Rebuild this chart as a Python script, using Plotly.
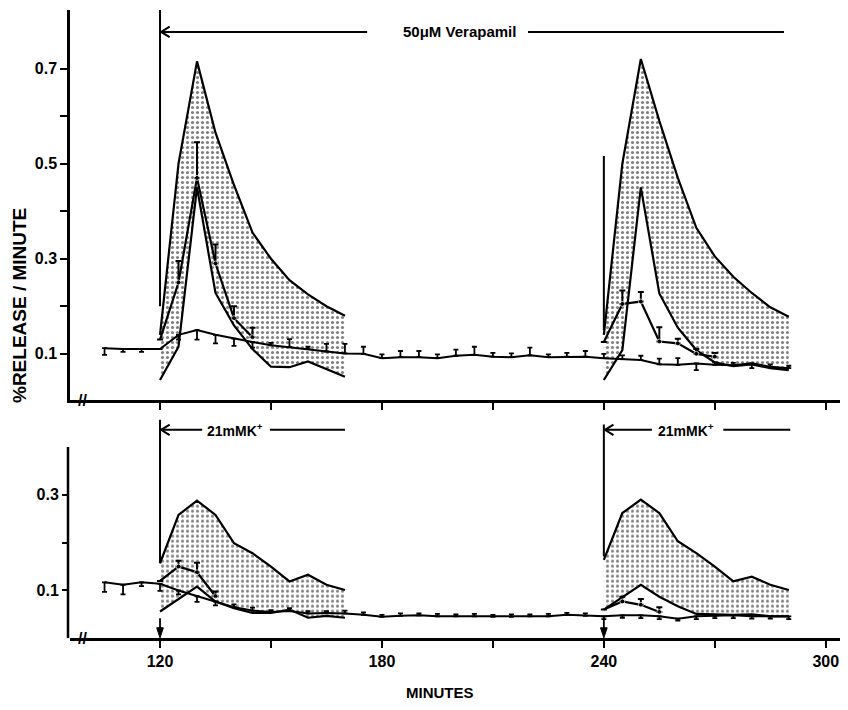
import plotly.graph_objects as go

# ---------------- data ----------------
time_all = [105, 110, 115, 120, 125, 130, 135, 140, 145, 150, 155, 160, 165, 170,
            175, 180, 185, 190, 195, 200, 205, 210, 215, 220, 225, 230, 235, 240,
            245, 250, 255, 260, 265, 270, 275, 280, 285, 290]

# top panel (50 uM verapamil) control curve
ctrl_top = [0.112, 0.110, 0.110, 0.110, 0.140, 0.150, 0.140, 0.132, 0.125, 0.118,
            0.114, 0.110, 0.105, 0.101, 0.100, 0.091, 0.093, 0.093, 0.091, 0.096,
            0.098, 0.094, 0.093, 0.097, 0.093, 0.094, 0.094, 0.091, 0.089, 0.087,
            0.078, 0.077, 0.080, 0.077, 0.076, 0.080, 0.073, 0.070]
ctrl_top_err_up = [0, 0, 0, 0, 0, 0, 0, 0, 0, 0.005, 0.017, 0.005, 0.016, 0.020,
                   0.015, 0.008, 0.013, 0.013, 0.008, 0.013, 0.017, 0.008, 0.008,
                   0.016, 0.006, 0.008, 0.012, 0.009, 0.008, 0.009, 0.012, 0.014,
                   0, 0.005, 0.005, 0, 0.005, 0.005]
ctrl_top_err_dn = [0.014, 0.006, 0.006, 0, 0.010, 0.020, 0.018, 0.015, 0.012, 0,
                   0, 0, 0, 0, 0, 0, 0, 0, 0, 0, 0, 0, 0, 0, 0, 0, 0, 0, 0, 0, 0, 0,
                   0.014, 0, 0, 0.010, 0, 0]

# bottom panel (21 mM K+) control curve
ctrl_bot = [0.117, 0.112, 0.117, 0.114, 0.100, 0.088, 0.077, 0.065, 0.058, 0.055,
            0.057, 0.052, 0.053, 0.052, 0.049, 0.045, 0.047, 0.048, 0.046, 0.046,
            0.046, 0.045, 0.045, 0.046, 0.046, 0.049, 0.047, 0.046, 0.048, 0.048,
            0.046, 0.041, 0.046, 0.047, 0.048, 0.046, 0.046, 0.046]
ctrl_bot_err_up = [0, 0, 0, 0, 0, 0, 0, 0.006, 0.006, 0.004, 0.006, 0.005, 0.004,
                   0.006, 0.005, 0.004, 0.005, 0.004, 0.005, 0.004, 0.005, 0.004,
                   0.005, 0.004, 0.005, 0.004, 0.005, 0, 0, 0, 0, 0, 0, 0, 0, 0, 0, 0]
ctrl_bot_err_dn = [0.020, 0.020, 0.008, 0.015, 0.008, 0.012, 0.008, 0, 0, 0, 0, 0,
                   0, 0, 0, 0, 0, 0, 0, 0, 0, 0, 0, 0, 0, 0, 0, 0.006, 0.005, 0.006,
                   0.006, 0.004, 0.006, 0.005, 0.006, 0.005, 0.005, 0.006]

# stippled envelopes (control K+ responses)
band_time_L = [120, 125, 130, 135, 140, 145, 150, 155, 160, 165, 170]
band_time_R = [240, 245, 250, 255, 260, 265, 270, 275, 280, 285, 290]
band_top_upper_L = [0.14, 0.50, 0.715, 0.565, 0.455, 0.355, 0.300, 0.255, 0.225, 0.200, 0.180]
band_top_lower_L = [0.045, 0.115, 0.450, 0.228, 0.160, 0.110, 0.073, 0.072, 0.084, 0.068, 0.052]
band_top_upper_R = [0.14, 0.50, 0.720, 0.590, 0.470, 0.365, 0.305, 0.262, 0.228, 0.198, 0.178]
band_top_lower_R = [0.045, 0.108, 0.450, 0.227, 0.155, 0.108, 0.082, 0.074, 0.078, 0.070, 0.066]
band_bot_upper_L = [0.157, 0.258, 0.288, 0.258, 0.199, 0.178, 0.150, 0.119, 0.133, 0.112, 0.101]
band_bot_lower_L = [0.056, 0.082, 0.108, 0.077, 0.063, 0.053, 0.053, 0.060, 0.043, 0.047, 0.043]
band_bot_upper_R = [0.164, 0.262, 0.290, 0.262, 0.203, 0.178, 0.150, 0.119, 0.129, 0.112, 0.101]
band_bot_lower_R = [0.060, 0.086, 0.112, 0.087, 0.067, 0.051, 0.050, 0.049, 0.050, 0.046, 0.046]

# K+ responses in the presence of verapamil
ver_top_L_time = [120, 125, 130, 135, 140, 145]
ver_top_L = [0.130, 0.250, 0.470, 0.290, 0.175, 0.135]
ver_top_L_err = [0, 0.045, 0.075, 0.040, 0.025, 0.020]
ver_top_R_time = [240, 245, 250, 255, 260, 265, 270]
ver_top_R = [0.125, 0.205, 0.210, 0.126, 0.122, 0.100, 0.094]
ver_top_R_err = [0, 0.028, 0.020, 0.030, 0.010, 0.010, 0.008]
ver_bot_L_time = [120, 125, 130, 135]
ver_bot_L = [0.120, 0.150, 0.138, 0.088]
ver_bot_L_err = [0, 0.012, 0.020, 0.010]
ver_bot_R_time = [240, 245, 250, 255]
ver_bot_R = [0.060, 0.077, 0.070, 0.055]
ver_bot_R_err = [0, 0.010, 0.012, 0.010]

x_ticks = [120, 150, 180, 210, 240, 270, 300]
x_ticktext = ["120", "", "180", "", "240", "", "300"]
y_top_ticks = [0.1, 0.2, 0.3, 0.4, 0.5, 0.6, 0.7]
y_top_ticktext = ["0.1", "", "0.3", "", "0.5", "", "0.7"]
y_bot_ticks = [0.1, 0.2, 0.3]
y_bot_ticktext = ["0.1", "", "0.3"]

# event markers (minutes / values)
stim_times = [120, 240]
verapamil_label = "50\u03bcM Verapamil"
k_label = "21mMK<sup>+</sup>"

# ---------------- figure ----------------
FONT = "Liberation Sans, Arial, sans-serif"
BLACK = "black"
OFF = 8  # page body margin of the browser
W, H = 848, 710
def px_x(px):
    return (px - OFF) / W
def px_y(py):
    return (H + OFF - py) / H

fig = go.Figure()

def band(xs, up, lo, xa, ya):
    fig.add_trace(go.Scatter(
        x=xs + xs[::-1], y=up + lo[::-1], xaxis=xa, yaxis=ya,
        mode="lines", fill="toself", line=dict(width=0, color="rgba(0,0,0,0)"),
        fillcolor="white",
        fillpattern=dict(shape=".", size=5, solidity=0.3, fgcolor="#000", bgcolor="white"),
        hoverinfo="skip"))
    for arr in (up, lo):
        fig.add_trace(go.Scatter(x=xs, y=arr, xaxis=xa, yaxis=ya, mode="lines",
                                 line=dict(color=BLACK, width=2.2), hoverinfo="skip"))

band(band_time_L, band_top_upper_L, band_top_lower_L, "x", "y")
band(band_time_R, band_top_upper_R, band_top_lower_R, "x", "y")
band(band_time_L, band_bot_upper_L, band_bot_lower_L, "x2", "y2")
band(band_time_R, band_bot_upper_R, band_bot_lower_R, "x2", "y2")

def ctrl(y, up, dn, xa, ya):
    fig.add_trace(go.Scatter(
        x=time_all, y=y, xaxis=xa, yaxis=ya, mode="lines",
        line=dict(color=BLACK, width=2),
        error_y=dict(type="data", symmetric=False, array=up, arrayminus=dn,
                     color=BLACK, thickness=1.8, width=2.5)))

ctrl(ctrl_top, ctrl_top_err_up, ctrl_top_err_dn, "x", "y")
ctrl(ctrl_bot, ctrl_bot_err_up, ctrl_bot_err_dn, "x2", "y2")

def ver(t, y, e, xa, ya):
    fig.add_trace(go.Scatter(
        x=t, y=y, xaxis=xa, yaxis=ya, mode="lines+markers",
        line=dict(color=BLACK, width=2.2),
        marker=dict(size=[0] + [5] * (len(t) - 1), color=BLACK),
        error_y=dict(type="data", symmetric=False, array=e, arrayminus=[0] * len(e),
                     color=BLACK, thickness=2, width=3)))

ver(ver_top_L_time, ver_top_L, ver_top_L_err, "x", "y")
ver(ver_top_R_time, ver_top_R, ver_top_R_err, "x", "y")
ver(ver_bot_L_time, ver_bot_L, ver_bot_L_err, "x2", "y2")
ver(ver_bot_R_time, ver_bot_R, ver_bot_R_err, "x2", "y2")

shapes = []
annotations = []
LW = 2

def left_arrow(xa, ya, head, tail, yv):
    # shaft plus an open arrowhead pointing left at `head`
    shapes.append(dict(type="line", xref=xa, yref=ya, x0=head + 0.3, x1=tail, y0=yv, y1=yv,
                       line=dict(color=BLACK, width=LW)))
    shapes.append(dict(type="path", xref=xa, yref=ya,
                       path=f"M {head + 2.6} {yv + 0.011} L {head + 0.3} {yv} L {head + 2.6} {yv - 0.011}",
                       line=dict(color=BLACK, width=2)))

# top panel: verapamil application markers
shapes.append(dict(type="line", xref="x", yref="y", x0=stim_times[0], x1=stim_times[0],
                   y0=0.20, y1=0.823, line=dict(color=BLACK, width=LW)))
shapes.append(dict(type="line", xref="x", yref="y", x0=stim_times[1], x1=stim_times[1],
                   y0=0.15, y1=0.516, line=dict(color=BLACK, width=LW)))
left_arrow("x", "y", stim_times[0], 176.0, 0.777)
annotations.append(dict(x=201, y=0.777, xref="x", yref="y", text=verapamil_label,
                        showarrow=False,
                        font=dict(family=FONT, size=15, color=BLACK, weight="bold")))
shapes.append(dict(type="line", xref="x", yref="y", x0=219.5, x1=288.7, y0=0.777, y1=0.777,
                   line=dict(color=BLACK, width=LW)))

# bottom panel: K+ markers
shapes.append(dict(type="line", xref="x2", yref="y2", x0=stim_times[0], x1=stim_times[0],
                   y0=0.157, y1=0.457, line=dict(color=BLACK, width=LW)))
shapes.append(dict(type="line", xref="x2", yref="y2", x0=stim_times[1], x1=stim_times[1],
                   y0=0.171, y1=0.447, line=dict(color=BLACK, width=LW)))
for t0, tail, tc, l0, l1 in [(stim_times[0], 131.4, 140.3, 149.7, 170.0),
                             (stim_times[1], 253.0, 262.2, 272.3, 290.4)]:
    left_arrow("x2", "y2", t0, tail, 0.436)
    annotations.append(dict(x=tc, y=0.436, xref="x2", yref="y2", text=k_label, showarrow=False,
                            font=dict(family=FONT, size=14, color=BLACK, weight="bold")))
    shapes.append(dict(type="line", xref="x2", yref="y2", x0=l0, x1=l1, y0=0.436, y1=0.436,
                       line=dict(color=BLACK, width=LW)))
    # small downward arrow onto the time axis
    shapes.append(dict(type="line", xref="x2", yref="y2", x0=t0, x1=t0, y0=0.042, y1=0.012,
                       line=dict(color=BLACK, width=1.8)))
    shapes.append(dict(type="path", xref="x2", yref="y2",
                       path=f"M {t0 - 0.9} 0.022 L {t0} 0.001 L {t0 + 0.9} 0.022 Z",
                       fillcolor=BLACK, line=dict(color=BLACK, width=1)))

XDOM = [px_x(70), px_x(845)]
# bottom y axis line (stops at 0.4)
shapes.append(dict(type="line", xref="paper", yref="y2", x0=px_x(68), x1=px_x(68),
                   y0=0, y1=0.40, line=dict(color=BLACK, width=2.5)))

# axis breaks
for xa, ya in (("x", "y"), ("x2", "y2")):
    annotations.append(dict(x=99.0, y=0.003 if ya == "y" else 0, xref=xa, yref=ya, text="//",
                            showarrow=False, font=dict(family=FONT, size=16, color=BLACK, weight="bold")))

# titles
annotations.append(dict(x=px_x(19), y=px_y(306), xref="paper", yref="paper",
                        xanchor="center", yanchor="middle",
                        text="%RELEASE / MINUTE", textangle=-90, showarrow=False,
                        font=dict(family=FONT, size=19, color=BLACK, weight="bold")))
annotations.append(dict(x=px_x(440), y=px_y(692), xref="paper", yref="paper",
                        xanchor="center", yanchor="middle",
                        text="MINUTES", showarrow=False,
                        font=dict(family=FONT, size=15, color=BLACK, weight="bold")))

XR = [95.66, 305.2]
common_x = dict(range=XR, domain=XDOM, showline=True, linecolor=BLACK, linewidth=2.5,
                ticks="outside", ticklen=7, tickwidth=2, tickcolor=BLACK,
                tickvals=x_ticks, showgrid=False, zeroline=False, fixedrange=True,
                automargin=False)
fig.update_layout(
    width=W, height=H, margin=dict(l=0, r=0, t=0, b=0),
    paper_bgcolor="white", plot_bgcolor="white", showlegend=False,
    xaxis=dict(**common_x, anchor="y", showticklabels=False),
    xaxis2=dict(**common_x, anchor="y2", ticktext=x_ticktext,
                tickfont=dict(family=FONT, size=16, color=BLACK, weight="bold")),
    yaxis=dict(domain=[px_y(400), px_y(10)], range=[0.003, 0.823], anchor="x",
               showline=True, linecolor=BLACK, linewidth=2.5, ticks="outside", ticklen=7,
               tickwidth=2, tickcolor=BLACK, tickvals=y_top_ticks, ticktext=y_top_ticktext,
               tickfont=dict(family=FONT, size=16, color=BLACK, weight="bold"),
               showgrid=False, zeroline=False, automargin=False),
    yaxis2=dict(domain=[px_y(638.3), px_y(413.6)], range=[0, 0.47], anchor="x2",
                showline=False, ticks="outside", ticklen=7, tickwidth=2, tickcolor=BLACK,
                tickvals=y_bot_ticks, ticktext=y_bot_ticktext,
                tickfont=dict(family=FONT, size=16, color=BLACK, weight="bold"),
                showgrid=False, zeroline=False, automargin=False),
    shapes=shapes, annotations=annotations,
)

fig.write_html("out.html")
